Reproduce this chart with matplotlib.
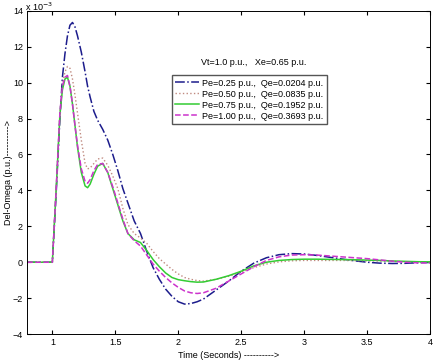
import matplotlib
matplotlib.use('Agg')
import matplotlib.pyplot as plt

plt.rcParams['font.family'] = ['Liberation Sans', 'DejaVu Sans']

# time axis (seconds) shared by all four runs
t = [0.8, 1.0, 1.03, 1.06, 1.08, 1.10, 1.12, 1.14, 1.16, 1.18, 1.20, 1.23, 1.26, 1.28,
     1.30, 1.33, 1.36, 1.40, 1.44, 1.48, 1.52, 1.56, 1.60, 1.65, 1.70, 1.75, 1.80, 1.85,
     1.90, 1.95, 2.0, 2.05, 2.1, 2.15, 2.2, 2.3, 2.4, 2.5, 2.6, 2.7, 2.8, 2.9, 3.0, 3.1,
     3.2, 3.3, 3.4, 3.5, 3.6, 3.7, 3.8, 3.9, 4.0]

# del-omega, units of 1e-3 p.u.
pe025 = [0, 0, 3.8, 8.0, 10.3, 11.6, 12.6, 13.2, 13.35, 13.1, 12.6, 11.7, 10.6, 9.8,
         9.2, 8.4, 7.9, 7.4, 6.8, 6.0, 5.1, 4.1, 3.3, 2.3, 1.6, 0.6, -0.3, -0.95,
         -1.5, -1.9, -2.2, -2.33, -2.3, -2.2, -2.05, -1.55, -1.05, -0.5, -0.05, 0.25, 0.42, 0.48, 0.46, 0.38,
         0.28, 0.18, 0.08, 0.0, -0.05, -0.07, -0.06, -0.03, -0.01]
pe050 = [0, 0, 4.0, 8.3, 9.9, 10.6, 10.9, 10.8, 10.2, 9.3, 8.3, 6.8, 5.5, 5.2,
         5.25, 5.5, 5.75, 5.8, 5.4, 4.8, 4.1, 3.0, 2.1, 1.6, 1.35, 1.05, 0.6, 0.2,
         -0.1, -0.4, -0.65, -0.85, -0.95, -1.02, -1.05, -0.95, -0.78, -0.55, -0.3, -0.1, 0.02, 0.08, 0.1, 0.1,
         0.1, 0.1, 0.09, 0.08, 0.07, 0.05, 0.03, 0.02, 0.01]
pe075 = [0, 0, 4.0, 8.2, 9.6, 10.2, 10.3, 9.8, 8.8, 7.6, 6.4, 5.0, 4.25, 4.15,
         4.35, 4.9, 5.35, 5.5, 5.0, 4.1, 3.2, 2.3, 1.6, 1.25, 1.1, 0.65, 0.15, -0.25,
         -0.6, -0.85, -0.97, -1.03, -1.08, -1.11, -1.1, -0.95, -0.75, -0.5, -0.2, 0.0, 0.1, 0.15, 0.17, 0.17,
         0.16, 0.15, 0.14, 0.12, 0.1, 0.07, 0.05, 0.03, 0.02]
pe100 = [0, 0, 4.0, 8.3, 9.8, 10.3, 10.4, 9.8, 8.8, 7.6, 6.5, 5.2, 4.5, 4.4,
         4.6, 5.1, 5.45, 5.5, 5.0, 4.2, 3.3, 2.4, 1.6, 1.2, 0.9, 0.4, -0.1, -0.5,
         -0.85, -1.15, -1.4, -1.6, -1.7, -1.74, -1.7, -1.45, -1.05, -0.65, -0.25, 0.1, 0.3, 0.4, 0.42, 0.4,
         0.35, 0.3, 0.25, 0.2, 0.13, 0.06, 0.0, -0.03, -0.04]

labels = ['Pe=0.25 p.u.,  Qe=0.0204 p.u.',
          'Pe=0.50 p.u.,  Qe=0.0835 p.u.',
          'Pe=0.75 p.u.,  Qe=0.1952 p.u.',
          'Pe=1.00 p.u.,  Qe=0.3693 p.u.']

fig = plt.figure(figsize=(4.38, 3.6), dpi=100)
ax = fig.add_axes([0.062, 0.072, 0.920, 0.898])

ax.plot(t, pe025, color='#1c1c8c', linestyle='-.', linewidth=1.1, label=labels[0])
ax.plot(t, pe050, color='#c08a80', linestyle=':', linewidth=1.0, label=labels[1])
ax.plot(t, pe075, color='#33cc33', linestyle='-', linewidth=1.1, label=labels[2])
ax.plot(t, pe100, color='#cc33cc', linestyle='--', linewidth=1.1, label=labels[3])

ax.set_xlim(0.8, 4)
ax.set_ylim(-4, 14)
ax.set_xticks([1, 1.5, 2, 2.5, 3, 3.5, 4])
ax.set_xticklabels(['1', '1.5', '2', '2.5', '3', '3.5', '4'])
ax.set_yticks(range(-4, 15, 2))
ax.tick_params(direction='in', top=True, right=True, labelsize=6.5, length=3, pad=3)
for s in ax.spines.values():
    s.set_linewidth(0.7)

ax.set_xlabel('Time (Seconds) ---------->', fontsize=6.5)
ax.xaxis.set_label_coords(0.5, -0.052)
ax.set_ylabel('Del-Omega (p.u.)---------->', fontsize=6.5)
ax.yaxis.set_label_coords(-0.036, 0.5)

ax.text(2.18, 11.1, 'Vt=1.0 p.u.,   Xe=0.65 p.u.', fontsize=6.5, va='center')
ax.legend(loc='upper left', bbox_to_anchor=(0.36, 0.80), fontsize=6.5, frameon=True,
          fancybox=False, edgecolor='#555555', framealpha=1, borderpad=0.35,
          labelspacing=0.22, handlelength=2.6, handletextpad=0.4, borderaxespad=0)

fig.text(0.057, 0.969, 'x 10$^{-3}$', fontsize=6.5, va='baseline')

fig.savefig('out.png', dpi=100)
